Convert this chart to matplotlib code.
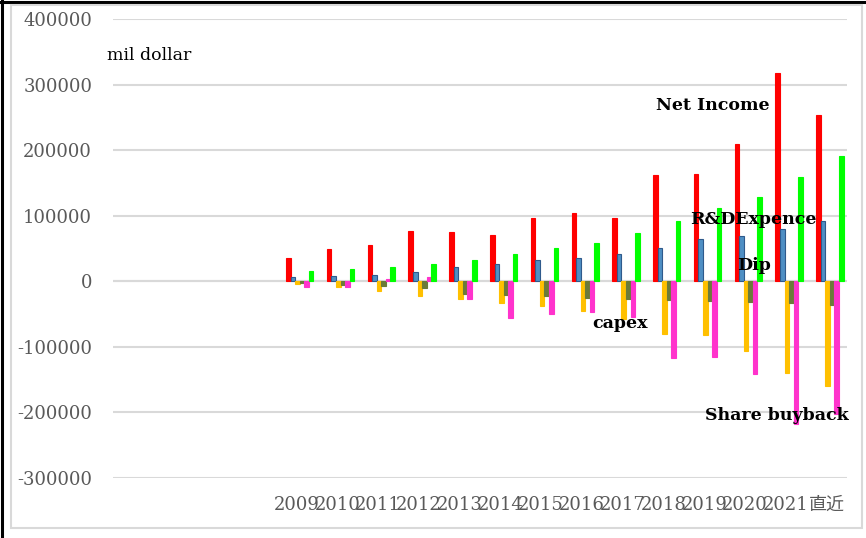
import matplotlib
matplotlib.use("Agg")
import matplotlib.pyplot as plt
import numpy as np
from matplotlib.patches import Rectangle
from matplotlib.lines import Line2D

categories = ["", "", "", "", "2009", "2010", "2011", "2012", "2013", "2014", "2015",
              "2016", "2017", "2018", "2019", "2020", "2021", "直近"]

net_income = [None, None, None, None, 36000, 49000, 55500, 76000, 74800, 70300, 96200,
              103400, 96300, 162000, 164000, 209400, 316900, 253200]
rd_expense = [None, None, None, None, 6500, 7600, 9200, 14200, 21900, 26000, 33100,
              35700, 41800, 50900, 64700, 68800, 80000, 91700]
capex = [None, None, None, None, -3500, -9200, -15300, -21900, -26500, -33600, -37700,
         -44800, -57600, -81000, -82500, -106500, -140100, -159400]
dip = [None, None, None, None, -3000, -5000, -6500, -9700, -19900, -20900, -22400,
       -25500, -27000, -28500, -30100, -31600, -33600, -35700]
share_buyback = [None, None, None, None, -8700, -8700, 3000, 6500, -27000, -56000, -50400,
                 -46900, -54500, -117700, -115100, -141600, -218000, -202000]
series6 = [None, None, None, None, 15700, 18300, 22400, 27000, 32600, 41200, 51400,
           59100, 73400, 91700, 111600, 128400, 158900, 191500]

yticks = [400000, 300000, 200000, 100000, 0, -100000, -200000, -300000]

series = [
    (net_income, "#FF0000", "#FF0000"),
    (rd_expense, "#4F8FC4", "#2F5A8C"),
    (capex, "#FFC000", "#FFC000"),
    (dip, "#6B7B3A", "#6B7B3A"),
    (share_buyback, "#FF33CC", "#FF33CC"),
    (series6, "#00FF00", "#00FF00"),
]

W, H = 866, 538
fig = plt.figure(figsize=(W / 100, H / 100), dpi=100)
ax = fig.add_axes([113 / W, 1 - 478 / H, (847 - 113) / W, (478 - 19) / H])

x = np.arange(len(categories))
bw = 0.112
offsets = (np.arange(len(series)) - (len(series) - 1) / 2) * bw + 0.08
for (vals, fc, ec), off in zip(series, offsets):
    v = np.array([np.nan if a is None else a for a in vals], dtype=float)
    ax.bar(x + off, v, width=bw, color=fc, edgecolor=ec, linewidth=0.8, zorder=3)

ax.set_xlim(-0.5, len(categories) - 0.5)
ax.set_ylim(-300000, 400000)
ax.set_yticks(yticks)
ax.set_yticklabels([str(t) for t in yticks])
ax.set_xticks(x)
ax.set_xticklabels(categories)
ax.grid(axis="y", color="#D9D9D9", linewidth=1.5, zorder=0)
ax.axhline(0, color="#D9D9D9", linewidth=1.5, zorder=1)
for s in ax.spines.values():
    s.set_visible(False)
ax.tick_params(axis="both", length=0, labelsize=13, labelcolor="#595959")
ax.tick_params(axis="x", pad=13)
ax.tick_params(axis="y", pad=15)
for lab in ax.get_xticklabels() + ax.get_yticklabels():
    lab.set_family(["DejaVu Serif", "Noto Sans CJK JP"])

txt_kw = dict(family="DejaVu Serif", color="black", zorder=5)
fig.text(107 / W, 1 - 56 / H, "mil dollar", fontsize=12.5, ha="left", va="center", **txt_kw)
fig.text(656 / W, 1 - 105 / H, "Net Income", fontsize=12.5, fontweight="bold", ha="left", va="center", **txt_kw)
fig.text(690 / W, 1 - 219 / H, "R&DExpence", fontsize=12.5, fontweight="bold", ha="left", va="center", **txt_kw)
fig.text(737 / W, 1 - 266 / H, "Dip", fontsize=12.5, fontweight="bold", ha="left", va="center", **txt_kw)
fig.text(592 / W, 1 - 323 / H, "capex", fontsize=12.5, fontweight="bold", ha="left", va="center", **txt_kw)
fig.text(705 / W, 1 - 415 / H, "Share buyback", fontsize=12.5, fontweight="bold", ha="left", va="center", **txt_kw)

# frame
fig.add_artist(Rectangle((11 / W, 1 - 528 / H), (862 - 11) / W, (528 - 5) / H,
                         transform=fig.transFigure, fill=False, edgecolor="#D9D9D9",
                         linewidth=1.5, zorder=10))
fig.add_artist(Line2D([1.5 / W, 1.5 / W], [0, 1], transform=fig.transFigure, color="black", linewidth=2.2))
fig.add_artist(Line2D([0, 1], [1 - 1.5 / H, 1 - 1.5 / H], transform=fig.transFigure, color="black", linewidth=2.2))

fig.savefig("out.png", dpi=100)
